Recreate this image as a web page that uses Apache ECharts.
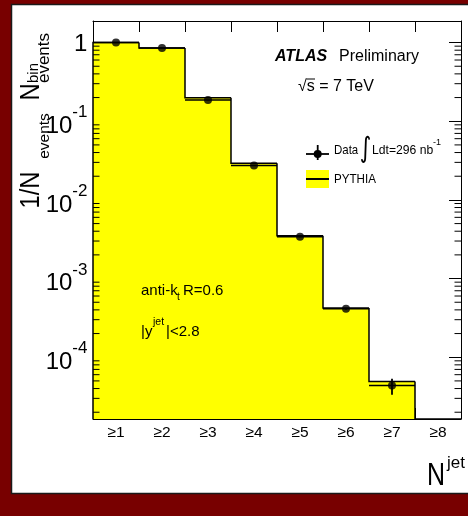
<!DOCTYPE html>
<html><head><meta charset="utf-8">
<script src="https://cdn.jsdelivr.net/npm/echarts@6/dist/echarts.min.js"></script>
<style>html,body{margin:0;padding:0;background:#780000;}#c{width:468px;height:516px;}</style>
</head><body><div id="c"></div>
<script>
// ---------- data ----------
const categories = ['≥1','≥2','≥3','≥4','≥5','≥6','≥7','≥8'];
const dataValues = [1.0, 0.85, 0.186, 0.0274, 0.0034, 0.000412, 0.0000437];
const dataErrUp   = [0.002, 0.002, 0.0006, 0.0002, 0.00004, 0.000012, 0.0000095];
const dataErrDown = [0.002, 0.002, 0.0006, 0.0002, 0.00004, 0.000012, 0.0000104];
const pythiaValues = [1.0, 0.856, 0.1995, 0.0293, 0.00349, 0.000424, 0.0000491, 0];
const yMajorTicks = [1e-4, 1e-3, 1e-2, 1e-1, 1];
const yMin = 1.64e-5, yMax = 1.88;

// minor tick positions (2..9 x 10^k)
const yMinorTicks = [];
for (let e = -5; e <= 0; e++) for (let m = 2; m <= 9; m++) {
  const v = m * Math.pow(10, e);
  if (v > yMin && v < yMax) yMinorTicks.push(v);
}

const FF = '"Liberation Sans", Arial, Helvetica, sans-serif';
const chart = echarts.init(document.getElementById('c'), null, {renderer: 'canvas'});

function binGeom(api, params, i) {
  const cs = params.coordSys;
  const w = api.size([1, 1])[0];
  const cx = api.coord([i, 1])[0];
  return {left: cx - w / 2, right: cx + w / 2, w: w, bottom: cs.y + cs.height};
}
function yPix(api, i, v, bottom) {
  return v > 0 ? api.coord([i, v])[1] : bottom;
}

const txt = (text, x, y, size, extra, styleExtra) => Object.assign({
  type: 'text', x: x, y: y, z: 100,
  style: Object.assign({text: text, fontSize: size, fontFamily: FF, fill: '#000', align: 'left', verticalAlign: 'middle'}, styleExtra || {})
}, extra || {});
const vtxt = (text, x, y, size, sx) => ({
  type: 'text', x: x, y: y, rotation: Math.PI / 2, scaleX: sx || 1, z: 100,
  style: {text: text, fontSize: size, fontFamily: FF, fill: '#000', align: 'center', verticalAlign: 'middle'}
});

const option = {
  backgroundColor: '#780000',
  animation: false,
  grid: {left: 93, top: 21, width: 368, height: 398, show: false},
  xAxis: [
    {type: 'category', data: categories, position: 'bottom', boundaryGap: true,
     axisLine: {show: true, onZero: false, lineStyle: {color: '#000', width: 1}},
     axisTick: {show: true, inside: true, length: 11, lineStyle: {color: '#000'}},
     axisLabel: {show: true, color: '#000', fontSize: 15.5, fontFamily: FF, margin: 6},
     splitLine: {show: false}},
    {type: 'category', data: categories, position: 'top', boundaryGap: true,
     axisLine: {show: true, onZero: false, lineStyle: {color: '#000', width: 1}},
     axisTick: {show: true, inside: true, length: 11, lineStyle: {color: '#000'}},
     axisLabel: {show: false}, splitLine: {show: false}}
  ],
  yAxis: [
    {type: 'log', logBase: 10, min: yMin, max: yMax, position: 'left',
     axisLine: {show: true, lineStyle: {color: '#000', width: 1}},
     axisTick: {show: true, inside: true, length: 12, lineStyle: {color: '#000'}},
     splitLine: {show: false},
     axisLabel: {
       margin: 5, color: '#000', fontFamily: FF,
       formatter: function (val) {
         const l = Math.log10(val), e = Math.round(l);
         if (Math.abs(l - e) > 1e-6) return '';
         if (e === 0) return '{one|1}{h1| }';
         return '{b|10}{s|' + e + '}{h| }';
       },
       rich: {
         one: {fontSize: 24, fontFamily: FF, color: '#000', lineHeight: 24, verticalAlign: 'bottom'},
         h1: {fontSize: 2, lineHeight: 27},
         b: {fontSize: 24, fontFamily: FF, color: '#000', lineHeight: 24, verticalAlign: 'bottom'},
         s: {fontSize: 17, fontFamily: FF, color: '#000', lineHeight: 30, verticalAlign: 'top'},
         h: {fontSize: 2, lineHeight: 34}
       }
     }},
    {type: 'log', logBase: 10, min: yMin, max: yMax, position: 'right',
     axisLine: {show: true, lineStyle: {color: '#000', width: 1}},
     axisTick: {show: true, inside: true, length: 12, lineStyle: {color: '#000'}},
     axisLabel: {show: false}, splitLine: {show: false}}
  ],
  series: [
    { // PYTHIA fill
      type: 'custom', name: 'PYTHIA fill', z: 2,
      data: pythiaValues.map((v, i) => [i, v]),
      encode: {x: 0, y: 1},
      renderItem: function (params, api) {
        const i = api.value(0), v = api.value(1);
        const g = binGeom(api, params, i);
        const yv = yPix(api, i, v, g.bottom);
        return {type: 'rect', shape: {x: g.left, y: yv, width: g.w, height: Math.max(0, g.bottom - yv)},
                style: {fill: '#ffff00'}};
      }
    },
    { // PYTHIA outline
      type: 'custom', name: 'PYTHIA', z: 3,
      data: pythiaValues.map((v, i) => [i, v, i > 0 ? pythiaValues[i - 1] : 0]),
      encode: {x: 0, y: 1},
      renderItem: function (params, api) {
        const i = api.value(0), v = api.value(1), pv = api.value(2);
        const g = binGeom(api, params, i);
        const yv = yPix(api, i, v, g.bottom);
        const yp = i > 0 ? yPix(api, i, pv, g.bottom) : g.bottom;
        return {type: 'polyline', shape: {points: [[g.left, yp], [g.left, yv], [g.right, yv]]},
                style: {stroke: '#000', lineWidth: 1.5, fill: null}};
      }
    },
    { // minor ticks
      type: 'custom', name: 'minor', z: 3, silent: true,
      data: yMinorTicks.map(v => [0, v]),
      encode: {x: 0, y: 1},
      renderItem: function (params, api) {
        const cs = params.coordSys;
        const y = api.coord([0, api.value(1)])[1];
        return {type: 'group', children: [
          {type: 'line', shape: {x1: cs.x, y1: y, x2: cs.x + 6.5, y2: y}, style: {stroke: '#000', lineWidth: 1}},
          {type: 'line', shape: {x1: cs.x + cs.width - 6.5, y1: y, x2: cs.x + cs.width, y2: y}, style: {stroke: '#000', lineWidth: 1}}
        ]};
      }
    },
    { // Data x-bars and error bars
      type: 'custom', name: 'Data bars', z: 4,
      data: dataValues.map((v, i) => [i, v, v + dataErrUp[i], v - dataErrDown[i]]),
      encode: {x: 0, y: 1},
      renderItem: function (params, api) {
        const i = api.value(0), v = api.value(1);
        const g = binGeom(api, params, i);
        const p = api.coord([i, v]);
        const hi = api.coord([i, api.value(2)])[1];
        const lo = api.coord([i, api.value(3)])[1];
        return {type: 'group', children: [
          {type: 'line', shape: {x1: g.left, y1: p[1], x2: g.right, y2: p[1]}, style: {stroke: '#000', lineWidth: 1.5}},
          {type: 'line', shape: {x1: p[0], y1: hi, x2: p[0], y2: lo}, style: {stroke: '#000', lineWidth: 1.8}}
        ]};
      }
    },
    { // Data markers
      type: 'scatter', name: 'Data', z: 5,
      data: dataValues.map((v, i) => [i, v]),
      symbol: 'circle', symbolSize: 8,
      itemStyle: {color: '#000'}
    }
  ],
  graphic: [
    {type: 'rect', z: -10, shape: {x: 11.5, y: 4.5, width: 470, height: 489},
     style: {fill: '#ffffff', stroke: '#1a1a1a', lineWidth: 1.5}},
    // y-axis title
    vtxt('1/N', 32, 190, 27, 0.88),
    vtxt('events', 45, 136, 15.5),
    vtxt('N', 32, 92, 27, 0.88),
    vtxt('bin', 34, 73, 15),
    vtxt('events', 44, 58, 17),
    // x-axis title
    txt('N', 427, 476.5, 32, {scaleX: 0.78}),
    txt('jet', 447, 463, 17),
    // ATLAS label
    txt('ATLAS', 275, 56.5, 16, null, {fontWeight: 'bold', fontStyle: 'italic'}),
    txt('Preliminary', 339, 56.5, 16),
    txt('√s = 7 TeV', 298, 87, 16),
    {type: 'line', z: 100, shape: {x1: 306.5, y1: 79, x2: 315, y2: 79}, style: {stroke: '#000', lineWidth: 1}},
    // legend: Data
    {type: 'line', z: 100, shape: {x1: 306, y1: 154, x2: 329, y2: 154}, style: {stroke: '#000', lineWidth: 1.8}},
    {type: 'line', z: 100, shape: {x1: 317.7, y1: 145, x2: 317.7, y2: 160}, style: {stroke: '#000', lineWidth: 1.8}},
    {type: 'circle', z: 100, shape: {cx: 317.7, cy: 154, r: 4}, style: {fill: '#000'}},
    txt('Data', 334, 150, 13.5, {scaleX: 0.85}),
    txt('∫', 365.5, 149.5, 28, {scaleX: 0.8}, {fontFamily: '"DejaVu Sans", sans-serif', align: 'center'}),
    txt('Ldt=296 nb', 372, 150, 13.5, {scaleX: 0.9}),
    txt('-1', 433, 143, 9),
    // legend: PYTHIA
    {type: 'rect', z: 100, shape: {x: 306, y: 170, width: 23, height: 18}, style: {fill: '#ffff00'}},
    {type: 'line', z: 101, shape: {x1: 306, y1: 179, x2: 329, y2: 179}, style: {stroke: '#000', lineWidth: 2}},
    txt('PYTHIA', 334, 179.5, 13.5, {scaleX: 0.86}),
    // jet selection labels
    txt('anti-k', 141, 291, 15),
    txt('t', 177, 297, 10),
    txt('R=0.6', 183, 291, 15),
    txt('|y', 141, 331.5, 15),
    txt('jet', 153, 322, 10.5),
    txt('|<2.8', 166, 331.5, 15)
  ]
};
chart.setOption(option);
</script></body></html>
